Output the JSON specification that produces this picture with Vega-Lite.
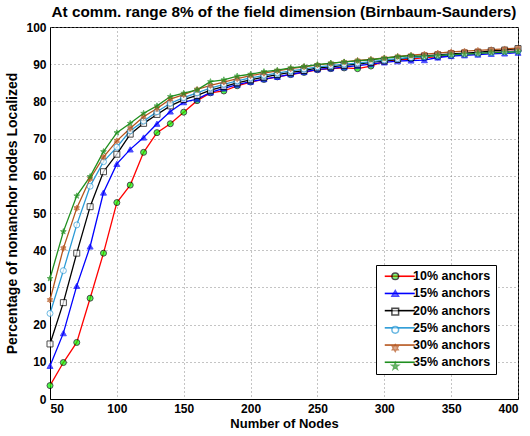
{
  "$schema": "https://vega.github.io/schema/vega-lite/v6.json",
  "width": 468,
  "height": 372,
  "autosize": "none",
  "padding": {"left": 50, "top": 27, "right": 12, "bottom": 37},
  "background": "white",
  "title": {"text": "At comm. range 8% of the field dimension (Birnbaum-Saunders)", "fontSize": 15.3, "fontWeight": "bold", "offset": 1, "anchor": "middle", "color": "#000"},
  "config": {
    "font": "Liberation Sans",
    "view": {"stroke": "#000", "strokeWidth": 1},
    "axis": {"labelFontSize": 12, "labelFontWeight": "bold", "labelColor": "#000", "titleFontSize": 13, "titleFontWeight": "bold", "titleColor": "#000", "domainColor": "#000", "grid": true, "gridDash": [1, 3], "gridColor": "#888", "gridOpacity": 1, "ticks": false, "labelPadding": 4},
    "legend": {"orient": "none", "legendX": 326, "legendY": 238, "title": null, "padding": 5, "labelFontSize": 12.5, "labelFontWeight": "bold", "labelColor": "#000", "rowPadding": 4.2}
  },
  "datasets": {
    "d": [
      {"n":50,"s":"10% anchors","v":3.6},{"n":60,"s":"10% anchors","v":9.8},{"n":70,"s":"10% anchors","v":15.2},{"n":80,"s":"10% anchors","v":27.1},{"n":90,"s":"10% anchors","v":39.2},{"n":100,"s":"10% anchors","v":52.8},{"n":110,"s":"10% anchors","v":57.5},{"n":120,"s":"10% anchors","v":66.3},{"n":130,"s":"10% anchors","v":71.6},{"n":140,"s":"10% anchors","v":74.0},{"n":150,"s":"10% anchors","v":77.1},{"n":160,"s":"10% anchors","v":80.2},{"n":170,"s":"10% anchors","v":82.3},{"n":180,"s":"10% anchors","v":82.8},{"n":190,"s":"10% anchors","v":84.2},{"n":200,"s":"10% anchors","v":85.2},{"n":210,"s":"10% anchors","v":85.9},{"n":220,"s":"10% anchors","v":86.6},{"n":230,"s":"10% anchors","v":87.2},{"n":240,"s":"10% anchors","v":87.8},{"n":250,"s":"10% anchors","v":88.5},{"n":260,"s":"10% anchors","v":88.8},{"n":270,"s":"10% anchors","v":89.0},{"n":280,"s":"10% anchors","v":88.8},{"n":290,"s":"10% anchors","v":89.5},{"n":300,"s":"10% anchors","v":90.8},{"n":310,"s":"10% anchors","v":91.2},{"n":320,"s":"10% anchors","v":91.4},{"n":330,"s":"10% anchors","v":91.8},{"n":340,"s":"10% anchors","v":92.0},{"n":350,"s":"10% anchors","v":92.3},{"n":360,"s":"10% anchors","v":92.6},{"n":370,"s":"10% anchors","v":92.8},{"n":380,"s":"10% anchors","v":93.2},{"n":390,"s":"10% anchors","v":93.4},{"n":400,"s":"10% anchors","v":93.6},
      {"n":50,"s":"15% anchors","v":8.9},{"n":60,"s":"15% anchors","v":17.7},{"n":70,"s":"15% anchors","v":30.4},{"n":80,"s":"15% anchors","v":41.0},{"n":90,"s":"15% anchors","v":55.5},{"n":100,"s":"15% anchors","v":63.2},{"n":110,"s":"15% anchors","v":67.1},{"n":120,"s":"15% anchors","v":70.3},{"n":130,"s":"15% anchors","v":74.0},{"n":140,"s":"15% anchors","v":77.3},{"n":150,"s":"15% anchors","v":79.8},{"n":160,"s":"15% anchors","v":80.6},{"n":170,"s":"15% anchors","v":82.4},{"n":180,"s":"15% anchors","v":83.5},{"n":190,"s":"15% anchors","v":84.5},{"n":200,"s":"15% anchors","v":85.3},{"n":210,"s":"15% anchors","v":86.0},{"n":220,"s":"15% anchors","v":86.6},{"n":230,"s":"15% anchors","v":87.3},{"n":240,"s":"15% anchors","v":87.9},{"n":250,"s":"15% anchors","v":88.6},{"n":260,"s":"15% anchors","v":88.9},{"n":270,"s":"15% anchors","v":89.2},{"n":280,"s":"15% anchors","v":89.6},{"n":290,"s":"15% anchors","v":90.0},{"n":300,"s":"15% anchors","v":90.5},{"n":310,"s":"15% anchors","v":90.8},{"n":320,"s":"15% anchors","v":91.0},{"n":330,"s":"15% anchors","v":91.1},{"n":340,"s":"15% anchors","v":91.8},{"n":350,"s":"15% anchors","v":92.2},{"n":360,"s":"15% anchors","v":92.4},{"n":370,"s":"15% anchors","v":92.6},{"n":380,"s":"15% anchors","v":92.8},{"n":390,"s":"15% anchors","v":92.9},{"n":400,"s":"15% anchors","v":93.1},
      {"n":50,"s":"20% anchors","v":14.8},{"n":60,"s":"20% anchors","v":25.9},{"n":70,"s":"20% anchors","v":39.2},{"n":80,"s":"20% anchors","v":51.7},{"n":90,"s":"20% anchors","v":61.1},{"n":100,"s":"20% anchors","v":65.8},{"n":110,"s":"20% anchors","v":71.2},{"n":120,"s":"20% anchors","v":74.1},{"n":130,"s":"20% anchors","v":76.5},{"n":140,"s":"20% anchors","v":78.8},{"n":150,"s":"20% anchors","v":80.5},{"n":160,"s":"20% anchors","v":81.6},{"n":170,"s":"20% anchors","v":83.0},{"n":180,"s":"20% anchors","v":84.0},{"n":190,"s":"20% anchors","v":85.0},{"n":200,"s":"20% anchors","v":85.8},{"n":210,"s":"20% anchors","v":86.5},{"n":220,"s":"20% anchors","v":87.2},{"n":230,"s":"20% anchors","v":87.8},{"n":240,"s":"20% anchors","v":88.3},{"n":250,"s":"20% anchors","v":89.0},{"n":260,"s":"20% anchors","v":89.3},{"n":270,"s":"20% anchors","v":89.7},{"n":280,"s":"20% anchors","v":90.0},{"n":290,"s":"20% anchors","v":90.5},{"n":300,"s":"20% anchors","v":90.9},{"n":310,"s":"20% anchors","v":91.3},{"n":320,"s":"20% anchors","v":91.8},{"n":330,"s":"20% anchors","v":92.2},{"n":340,"s":"20% anchors","v":92.5},{"n":350,"s":"20% anchors","v":92.8},{"n":360,"s":"20% anchors","v":93.0},{"n":370,"s":"20% anchors","v":93.2},{"n":380,"s":"20% anchors","v":93.6},{"n":390,"s":"20% anchors","v":93.8},{"n":400,"s":"20% anchors","v":94.2},
      {"n":50,"s":"25% anchors","v":23.0},{"n":60,"s":"25% anchors","v":34.5},{"n":70,"s":"25% anchors","v":46.8},{"n":80,"s":"25% anchors","v":57.2},{"n":90,"s":"25% anchors","v":63.8},{"n":100,"s":"25% anchors","v":67.7},{"n":110,"s":"25% anchors","v":72.1},{"n":120,"s":"25% anchors","v":74.7},{"n":130,"s":"25% anchors","v":77.2},{"n":140,"s":"25% anchors","v":79.5},{"n":150,"s":"25% anchors","v":81.0},{"n":160,"s":"25% anchors","v":82.3},{"n":170,"s":"25% anchors","v":83.6},{"n":180,"s":"25% anchors","v":84.6},{"n":190,"s":"25% anchors","v":85.5},{"n":200,"s":"25% anchors","v":86.3},{"n":210,"s":"25% anchors","v":87.0},{"n":220,"s":"25% anchors","v":87.6},{"n":230,"s":"25% anchors","v":88.2},{"n":240,"s":"25% anchors","v":88.7},{"n":250,"s":"25% anchors","v":89.3},{"n":260,"s":"25% anchors","v":89.6},{"n":270,"s":"25% anchors","v":90.0},{"n":280,"s":"25% anchors","v":90.3},{"n":290,"s":"25% anchors","v":90.7},{"n":300,"s":"25% anchors","v":91.1},{"n":310,"s":"25% anchors","v":91.5},{"n":320,"s":"25% anchors","v":91.8},{"n":330,"s":"25% anchors","v":92.0},{"n":340,"s":"25% anchors","v":92.3},{"n":350,"s":"25% anchors","v":92.5},{"n":360,"s":"25% anchors","v":92.7},{"n":370,"s":"25% anchors","v":92.9},{"n":380,"s":"25% anchors","v":93.1},{"n":390,"s":"25% anchors","v":93.3},{"n":400,"s":"25% anchors","v":93.5},
      {"n":50,"s":"30% anchors","v":26.6},{"n":60,"s":"30% anchors","v":40.5},{"n":70,"s":"30% anchors","v":51.3},{"n":80,"s":"30% anchors","v":59.2},{"n":90,"s":"30% anchors","v":65.0},{"n":100,"s":"30% anchors","v":69.4},{"n":110,"s":"30% anchors","v":72.8},{"n":120,"s":"30% anchors","v":75.9},{"n":130,"s":"30% anchors","v":78.1},{"n":140,"s":"30% anchors","v":80.6},{"n":150,"s":"30% anchors","v":81.8},{"n":160,"s":"30% anchors","v":83.2},{"n":170,"s":"30% anchors","v":84.3},{"n":180,"s":"30% anchors","v":85.2},{"n":190,"s":"30% anchors","v":86.1},{"n":200,"s":"30% anchors","v":86.9},{"n":210,"s":"30% anchors","v":87.6},{"n":220,"s":"30% anchors","v":88.2},{"n":230,"s":"30% anchors","v":88.8},{"n":240,"s":"30% anchors","v":89.3},{"n":250,"s":"30% anchors","v":89.8},{"n":260,"s":"30% anchors","v":90.2},{"n":270,"s":"30% anchors","v":90.6},{"n":280,"s":"30% anchors","v":91.0},{"n":290,"s":"30% anchors","v":91.3},{"n":300,"s":"30% anchors","v":91.7},{"n":310,"s":"30% anchors","v":92.1},{"n":320,"s":"30% anchors","v":92.4},{"n":330,"s":"30% anchors","v":92.7},{"n":340,"s":"30% anchors","v":93.0},{"n":350,"s":"30% anchors","v":93.3},{"n":360,"s":"30% anchors","v":93.5},{"n":370,"s":"30% anchors","v":93.7},{"n":380,"s":"30% anchors","v":93.9},{"n":390,"s":"30% anchors","v":94.1},{"n":400,"s":"30% anchors","v":94.3},
      {"n":50,"s":"35% anchors","v":32.4},{"n":60,"s":"35% anchors","v":45.0},{"n":70,"s":"35% anchors","v":54.6},{"n":80,"s":"35% anchors","v":59.8},{"n":90,"s":"35% anchors","v":66.5},{"n":100,"s":"35% anchors","v":71.6},{"n":110,"s":"35% anchors","v":74.1},{"n":120,"s":"35% anchors","v":76.8},{"n":130,"s":"35% anchors","v":78.8},{"n":140,"s":"35% anchors","v":81.3},{"n":150,"s":"35% anchors","v":82.2},{"n":160,"s":"35% anchors","v":83.1},{"n":170,"s":"35% anchors","v":85.3},{"n":180,"s":"35% anchors","v":85.8},{"n":190,"s":"35% anchors","v":86.8},{"n":200,"s":"35% anchors","v":87.3},{"n":210,"s":"35% anchors","v":88.0},{"n":220,"s":"35% anchors","v":88.4},{"n":230,"s":"35% anchors","v":89.0},{"n":240,"s":"35% anchors","v":89.4},{"n":250,"s":"35% anchors","v":89.9},{"n":260,"s":"35% anchors","v":90.3},{"n":270,"s":"35% anchors","v":90.6},{"n":280,"s":"35% anchors","v":90.9},{"n":290,"s":"35% anchors","v":91.2},{"n":300,"s":"35% anchors","v":91.6},{"n":310,"s":"35% anchors","v":92.0},{"n":320,"s":"35% anchors","v":92.3},{"n":330,"s":"35% anchors","v":92.1},{"n":340,"s":"35% anchors","v":92.3},{"n":350,"s":"35% anchors","v":92.5},{"n":360,"s":"35% anchors","v":92.7},{"n":370,"s":"35% anchors","v":92.9},{"n":380,"s":"35% anchors","v":93.1},{"n":390,"s":"35% anchors","v":93.2},{"n":400,"s":"35% anchors","v":93.3}
    ]
  },
  "data": {"name": "d"},
  "encoding": {
    "x": {"field": "n", "type": "quantitative", "scale": {"domain": [50, 400], "nice": false, "zero": false}, "axis": {"title": "Number of Nodes", "values": [50, 100, 150, 200, 250, 300, 350, 400], "titlePadding": 3}},
    "y": {"field": "v", "type": "quantitative", "scale": {"domain": [0, 100], "nice": false}, "axis": {"title": "Percentage of nonanchor nodes Localized", "values": [0, 10, 20, 30, 40, 50, 60, 70, 80, 90, 100], "titlePadding": 6, "titleFontSize": 14}}
  },
  "layer": [
    {
      "mark": {"type": "line", "strokeWidth": 1.3},
      "encoding": {
        "color": {"field": "s", "type": "nominal", "scale": {"domain": ["10% anchors", "15% anchors", "20% anchors", "25% anchors", "30% anchors", "35% anchors"], "range": ["#ff0000", "#0000ff", "#000000", "#2a9ad6", "#b5541c", "#1f8f1f"]}, "legend": {"symbolType": "M-6,0H6", "symbolSize": 25, "symbolStrokeWidth": 1.6, "symbolOffset": 12.5, "labelOffset": 7, "strokeColor": "#000", "fillColor": "#fff"}}
      }
    },
    {
      "mark": {"type": "point", "size": 36, "strokeWidth": 1},
      "encoding": {
        "shape": {"field": "s", "type": "nominal", "scale": {"range": ["circle", "triangle-up", "square", "circle", "M0,-1L0.289,-0.5L0.866,-0.5L0.577,0L0.866,0.5L0.289,0.5L0,1L-0.289,0.5L-0.866,0.5L-0.577,0L-0.866,-0.5L-0.289,-0.5Z", "M0,-1L0.225,-0.309L0.951,-0.309L0.363,0.118L0.588,0.809L0,0.382L-0.588,0.809L-0.363,0.118L-0.951,-0.309L-0.225,-0.309Z"]}, "legend": {"symbolSize": 45, "symbolOffset": 8, "labelOffset": 5, "labelOpacity": 0}},
        "fill": {"field": "s", "type": "nominal", "scale": {"range": ["#00ff00", "#0000ff", "#ffffff", "#ffffff", "#b5541c", "#1f8f1f"]}, "legend": {"symbolSize": 45, "symbolOffset": 8, "labelOffset": 5, "labelOpacity": 0}},
        "stroke": {"field": "s", "type": "nominal", "scale": {"range": ["#000000", "#0000ff", "#000000", "#2a9ad6", "#b5541c", "#1f8f1f"]}, "legend": {"symbolSize": 45, "symbolOffset": 8, "labelOffset": 5, "labelOpacity": 0}}
      }
    }
  ]
}
